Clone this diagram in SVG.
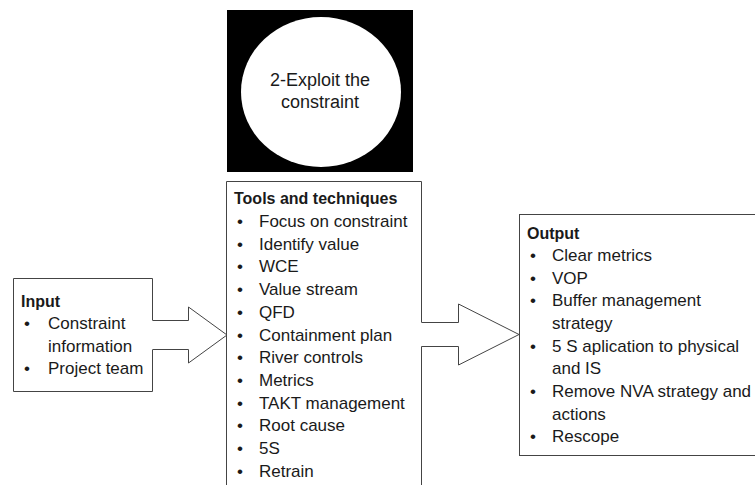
<svg xmlns="http://www.w3.org/2000/svg" width="755" height="485" viewBox="0 0 755 485">
<style>
.box{fill:#ffffff;stroke:#444444;stroke-width:1}
.arr{fill:#ffffff;stroke:#444444;stroke-width:1;stroke-linejoin:miter}
text{font-family:"Liberation Sans",Arial,sans-serif;fill:#1a1a1a}
.t{font-size:17px}
.h{font-size:16px;font-weight:bold}
.b{font-size:17px;text-anchor:middle}
.c{font-size:18px;text-anchor:middle}
</style>
<rect width="755" height="485" fill="#ffffff"/>
<g id="connectors">
<path class="arr" d="M152.5,320.5 H188.5 V307 L227,335 L188.5,363 V349.5 H152.5"/>
<path class="arr" d="M421.5,322.5 H458.5 V304 L519,334.5 L458.5,365 V346.5 H421.5"/>
</g>
<g id="step">
<rect x="227" y="10" width="186" height="162" fill="#000000"/>
<ellipse cx="321" cy="92" rx="80" ry="75" fill="#ffffff"/>
<text class="c" x="320" y="86">2-Exploit the</text>
<text class="c" x="320" y="108">constraint</text>
</g>
<g id="input">
<path class="box" fill="none" d="M152.5,320.5 V278.5 H13.5 V391.5 H152.5 V349.5"/>
<text class="h" x="21" y="307">Input</text>
<text class="b" x="27" y="329">•</text><text class="t" x="48" y="329">Constraint</text>
<text class="t" x="48" y="352">information</text>
<text class="b" x="27" y="374">•</text><text class="t" x="48" y="374">Project team</text>
</g>
<g id="tools">
<path class="box" fill="none" d="M421.5,322.5 V181.5 H226.5 V490 M421.5,346.5 V490"/>
<text class="h" x="234" y="204">Tools and techniques</text>
<g class="b">
<text class="b" x="240" y="227">•</text>
<text class="b" x="240" y="250">•</text>
<text class="b" x="240" y="272">•</text>
<text class="b" x="240" y="295">•</text>
<text class="b" x="240" y="318">•</text>
<text class="b" x="240" y="341">•</text>
<text class="b" x="240" y="363">•</text>
<text class="b" x="240" y="386">•</text>
<text class="b" x="240" y="409">•</text>
<text class="b" x="240" y="431">•</text>
<text class="b" x="240" y="454">•</text>
<text class="b" x="240" y="477">•</text>
</g>
<text class="t" x="259" y="227">Focus on constraint</text>
<text class="t" x="259" y="250">Identify value</text>
<text class="t" x="259" y="272">WCE</text>
<text class="t" x="259" y="295">Value stream</text>
<text class="t" x="259" y="318">QFD</text>
<text class="t" x="259" y="341">Containment plan</text>
<text class="t" x="259" y="363">River controls</text>
<text class="t" x="259" y="386">Metrics</text>
<text class="t" x="259" y="409">TAKT management</text>
<text class="t" x="259" y="431">Root cause</text>
<text class="t" x="259" y="454">5S</text>
<text class="t" x="259" y="477">Retrain</text>
</g>
<g id="output">
<rect class="box" x="519.5" y="214.5" width="245" height="241"/>
<text class="h" x="527" y="239">Output</text>
<text class="b" x="533" y="261">•</text><text class="t" x="552" y="261">Clear metrics</text>
<text class="b" x="533" y="284">•</text><text class="t" x="552" y="284">VOP</text>
<text class="b" x="533" y="306">•</text><text class="t" x="552" y="306">Buffer management</text>
<text class="t" x="552" y="329">strategy</text>
<text class="b" x="533" y="352">•</text><text class="t" x="552" y="352">5 S aplication to physical</text>
<text class="t" x="552" y="374">and IS</text>
<text class="b" x="533" y="397">•</text><text class="t" x="552" y="397">Remove NVA strategy and</text>
<text class="t" x="552" y="420">actions</text>
<text class="b" x="533" y="442">•</text><text class="t" x="552" y="442">Rescope</text>
</g>
</svg>
